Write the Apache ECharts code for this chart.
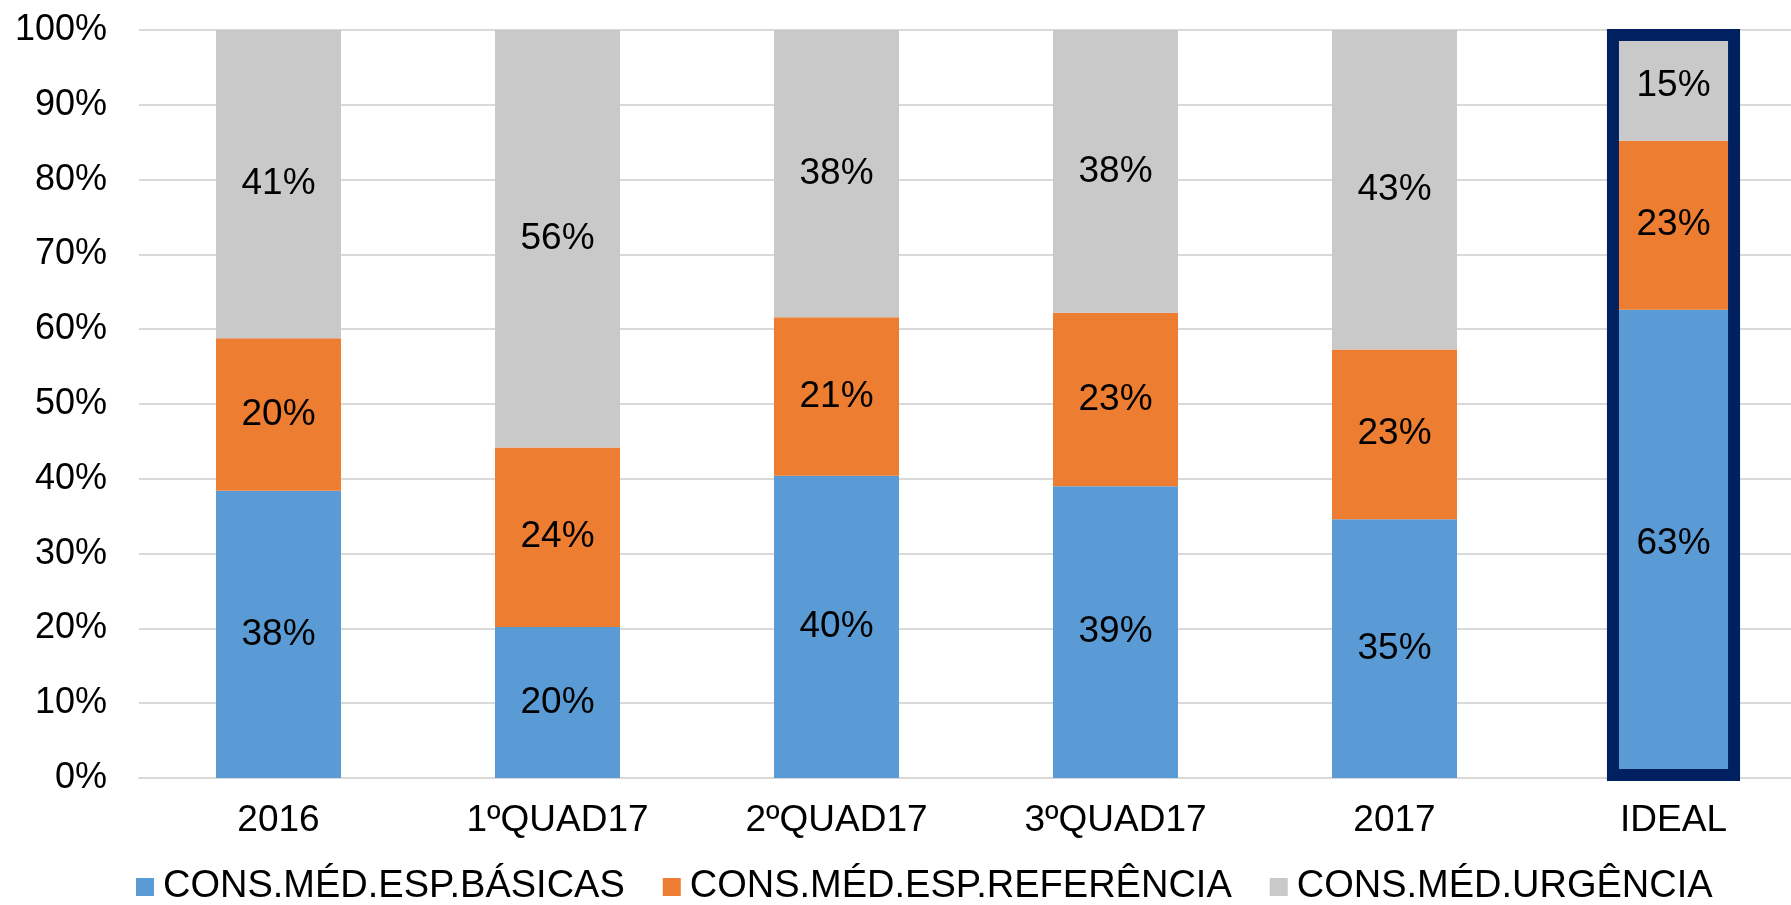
<!DOCTYPE html>
<html>
<head>
<meta charset="utf-8">
<script src="https://cdn.jsdelivr.net/npm/echarts@6/dist/echarts.min.js"></script>
<style>
  html, body { margin: 0; padding: 0; background: #fff; overflow: hidden; }
  /* the plot runs a little past the right edge of the picture, as in the original */
  #chart { width: 1813px; height: 905px; }
</style>
</head>
<body>
<div id="chart"></div>
<script>
// values, in percent
var categories = ['2016', '1ºQUAD17', '2ºQUAD17', '3ºQUAD17', '2017', 'IDEAL'];
var basicas = [38.4, 20.2, 40.4, 39.0, 34.6, 62.6];
var referencia = [20.4, 24.0, 21.2, 23.2, 22.7, 22.6];
var urgencia = [41.2, 55.8, 38.4, 37.8, 42.7, 14.8];
var yTicks = [0, 10, 20, 30, 40, 50, 60, 70, 80, 90, 100];
var highlighted = [[5, 100]];

var chart = echarts.init(document.getElementById('chart'));
var font = 'Liberation Sans, Arial, sans-serif';

var labelOpt = {
    show: true,
    position: 'inside',
    color: '#000',
    fontFamily: font,
    fontSize: 37,
    formatter: function (p) { return Math.round(p.value) + '%'; }
};

function barSeries(name, data, color) {
    return {
        name: name,
        type: 'bar',
        stack: 'total',
        data: data,
        barWidth: '44.8%',
        itemStyle: { color: color },
        label: labelOpt
    };
}

var option = {
    animation: false,
    grid: { left: 139, right: 0, top: 30, bottom: 127 },
    legend: {
        left: 131,
        bottom: -6,
        icon: 'rect',
        itemWidth: 18,
        itemHeight: 18,
        itemGap: 38,
        textStyle: { fontFamily: font, fontSize: 38, color: '#000', padding: [0, 0, 0, 4] },
        data: ['CONS.MÉD.ESP.BÁSICAS', 'CONS.MÉD.ESP.REFERÊNCIA', 'CONS.MÉD.URGÊNCIA']
    },
    xAxis: {
        type: 'category',
        data: categories,
        axisLine: { show: true, lineStyle: { color: '#d9d9d9', width: 2 } },
        axisTick: { show: false },
        axisLabel: { color: '#000', fontFamily: font, fontSize: 37, margin: 24 }
    },
    yAxis: {
        type: 'value',
        min: yTicks[0],
        max: yTicks[yTicks.length - 1],
        interval: 10,
        axisLine: { show: false },
        axisTick: { show: false },
        splitLine: { lineStyle: { color: '#d9d9d9', width: 2 } },
        axisLabel: {
            color: '#000', fontFamily: font, fontSize: 36, margin: 32,
            formatter: function (v) { return v + '%'; }
        }
    },
    series: [
        barSeries('CONS.MÉD.ESP.BÁSICAS', basicas, '#5b9bd5'),
        barSeries('CONS.MÉD.ESP.REFERÊNCIA', referencia, '#ed7d31'),
        barSeries('CONS.MÉD.URGÊNCIA', urgencia, '#c9c9c9'),
        {
            // frame around the IDEAL bar
            type: 'custom',
            z: 10,
            data: highlighted,
            renderItem: function (params, api) {
                var top = api.coord([api.value(0), api.value(1)]);
                var base = api.coord([api.value(0), 0]);
                var w = api.size([1, 0])[0] * 0.434;
                return {
                    type: 'rect',
                    shape: { x: top[0] - w / 2, y: top[1] + 5, width: w, height: base[1] - top[1] - 8 },
                    style: { fill: 'none', stroke: '#002060', lineWidth: 12 }
                };
            }
        }
    ]
};

chart.setOption(option);
</script>
</body>
</html>
